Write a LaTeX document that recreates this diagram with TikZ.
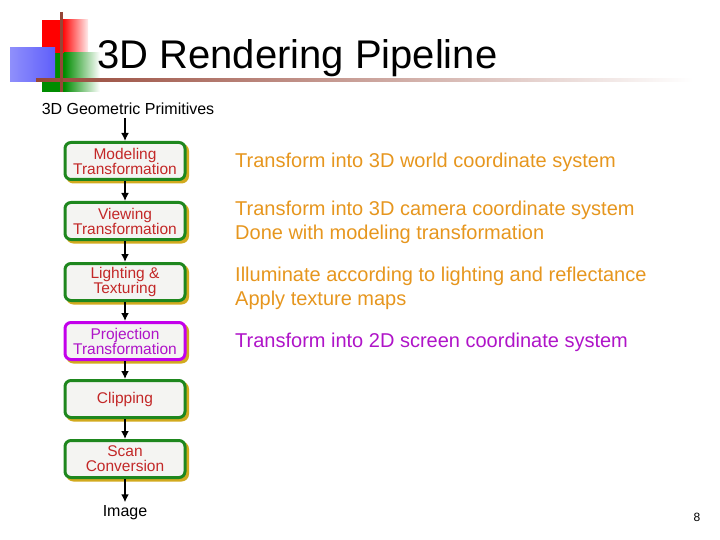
\documentclass[tikz,border=0pt]{standalone}
\usepackage{fontspec}
\setmainfont{Liberation Sans}
\usetikzlibrary{arrows.meta}
\usetikzlibrary{shadows}
\definecolor{boxgreen}{RGB}{30,135,30}
\definecolor{boxpurple}{RGB}{195,0,235}
\definecolor{boxfill}{RGB}{244,244,242}
\definecolor{boxshadow}{RGB}{210,170,30}
\definecolor{stagered}{RGB}{195,40,40}
\definecolor{noteorange}{RGB}{230,150,30}
\definecolor{notepurple}{RGB}{175,20,200}
\definecolor{logobrown}{RGB}{150,70,55}
\definecolor{logoblue}{RGB}{95,95,250}
\definecolor{logogreen}{RGB}{0,140,0}
\tikzset{stage/.style = {draw=boxgreen, line width=3pt, fill=boxfill, rounded corners=6pt,
                         minimum width=120pt, minimum height=37pt, inner sep=0pt,
                         align=center, text=stagered,
                         font=\fontsize{15.5}{15}\selectfont,
                         general shadow={shadow xshift=2.5pt, shadow yshift=-2.5pt,
                                         fill=boxshadow, draw=boxshadow, line width=3pt}},
         note/.style = {anchor=west, align=left, text=noteorange,
                        font=\fontsize{20}{24}\selectfont, inner sep=0pt},
         flow/.style = {-{Latex[length=8pt, width=8pt]}, line width=2.5pt}}

\begin{document}
\begin{tikzpicture}[x=1pt, y=-1pt]
      \useasboundingbox (0, 0) rectangle (720, 540);

      % logo
      \fill [red] (42, 20) rectangle (62, 53);
      \shade [left color=red, right color=red!8] (62, 20) rectangle (88, 53);
      \fill [logogreen] (42, 53) rectangle (64, 92);
      \shade [left color=logogreen, right color=white] (64, 53) rectangle (100, 92);
      \shade [left color=logoblue!70, right color=logoblue] (10, 48) rectangle (55, 82);
      \shade [left color=logobrown, right color=white] (36, 78.5) rectangle (693, 81.5);
      \draw [logobrown, line width=3pt] (61, 12) -- (61, 92);

      \node (title) [anchor=west, inner sep=0pt, font=\fontsize{40}{40}\selectfont] at (97, 58) {3D Rendering Pipeline};

      \node (prim) [font=\fontsize{16}{16}\selectfont] at (128, 109) {3D Geometric Primitives};

      \node (model) [stage] at (125, 161) {Modeling\\Transformation};
      \node (view) [stage] at (125, 221) {Viewing\\Transformation};
      \node (light) [stage] at (125, 282) {Lighting \&\\Texturing};
      \node (proj) [stage, draw=boxpurple, text=notepurple] at (125, 341) {Projection\\Transformation};
      \node (clip) [stage] at (125, 399) {Clipping};
      \node (scan) [stage] at (125, 459) {Scan\\Conversion};
      \node (img) [font=\fontsize{16}{16}\selectfont] at (125, 513) {Image};

      \draw [flow] (model.north |- prim.south) -- (model);
      \draw [flow] (model) -- (view);
      \draw [flow] (view) -- (light);
      \draw [flow] (light) -- (proj);
      \draw [flow] (proj) -- (clip);
      \draw [flow] (clip) -- (scan);
      \draw [flow] (scan) -- (img);

      \node (n1) [note] at (235, 162) {Transform into 3D world coordinate system};
      \node (n2) [note] at (235, 222) {Transform into 3D camera coordinate system\\Done with modeling transformation};
      \node (n3) [note] at (235, 288) {Illuminate according to lighting and reflectance\\Apply texture maps};
      \node (n4) [note, text=notepurple] at (235, 342) {Transform into 2D screen coordinate system};

      \node (page) [font=\fontsize{12}{12}\selectfont] at (697, 517) {8};
    \end{tikzpicture}
\end{document}
